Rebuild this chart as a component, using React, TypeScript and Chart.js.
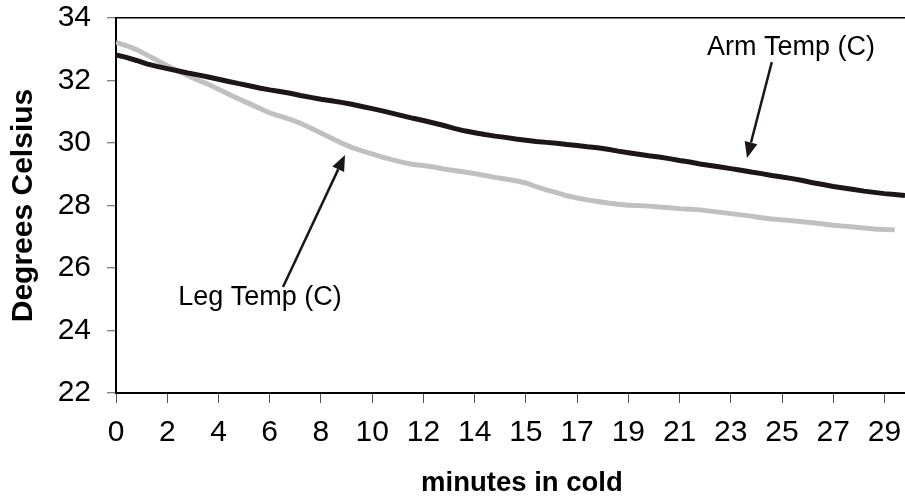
import React, { useEffect, useRef } from 'react';
import { Chart, registerables } from 'chart.js';

Chart.register(...registerables);

// x tick labels (minutes in cold), one every 5 samples
const tickLabels = ['0', '2', '4', '6', '8', '10', '12', '14', '15', '17', '19', '21', '23', '25', '27', '29'];
const samplesPerTick = 5;

// Arm temperature (C), one value per sample
const armTemp = [
  32.82, 32.74, 32.64, 32.53, 32.45, 32.38, 32.31, 32.24, 32.18, 32.11,
  32.04, 31.97, 31.90, 31.83, 31.76, 31.70, 31.65, 31.59, 31.52, 31.46,
  31.40, 31.35, 31.30, 31.24, 31.17, 31.10, 31.03, 30.95, 30.87, 30.79,
  30.72, 30.64, 30.56, 30.47, 30.39, 30.33, 30.27, 30.22, 30.18, 30.13,
  30.09, 30.05, 30.02, 29.99, 29.95, 29.92, 29.88, 29.85, 29.80, 29.74,
  29.69, 29.64, 29.59, 29.55, 29.50, 29.44, 29.39, 29.33, 29.28, 29.23,
  29.18, 29.13, 29.07, 29.02, 28.96, 28.91, 28.86, 28.80, 28.73, 28.67,
  28.61, 28.56, 28.51, 28.46, 28.42, 28.38, 28.35, 28.32,
];

// Leg temperature (C), one value per sample
const legTemp = [
  33.22, 33.12, 32.99, 32.82, 32.65, 32.47, 32.31, 32.16, 32.01, 31.88,
  31.72, 31.56, 31.41, 31.26, 31.11, 30.96, 30.86, 30.76, 30.63, 30.48,
  30.32, 30.16, 30.00, 29.86, 29.75, 29.65, 29.55, 29.46, 29.38, 29.31,
  29.28, 29.23, 29.17, 29.12, 29.07, 29.02, 28.96, 28.90, 28.85, 28.79,
  28.72, 28.60, 28.50, 28.41, 28.31, 28.24, 28.18, 28.13, 28.08, 28.04,
  28.01, 28.00, 27.98, 27.95, 27.93, 27.90, 27.88, 27.86, 27.82, 27.78,
  27.74, 27.70, 27.66, 27.61, 27.57, 27.54, 27.51, 27.48, 27.45, 27.41,
  27.37, 27.34, 27.31, 27.28, 27.25, 27.23, 27.22, null,
];

// Text callouts with arrows, placed in data units (sample index, degrees)
const callouts = [
  { text: 'Arm Temp (C)', textX: 65.87, textY: 32.82, tailX: 64.0, tailY: 32.59, tipX: 61.58, tipY: 29.52 },
  { text: 'Leg Temp (C)', textX: 14.05, textY: 24.82, tailX: 16.3, tailY: 25.39, tipX: 22.35, tipY: 29.62 },
];

const FONT = '"Liberation Sans", Arial, Helvetica, sans-serif';
const INK = '#1c1616';

const calloutPlugin = {
  id: 'callouts',
  afterDatasetsDraw(chart: any) {
    const { ctx } = chart;
    const xs = chart.scales.x;
    const ys = chart.scales.y;
    ctx.save();
    callouts.forEach((c) => {
      const tx = xs.getPixelForValue(c.tailX);
      const ty = ys.getPixelForValue(c.tailY);
      const px = xs.getPixelForValue(c.tipX);
      const py = ys.getPixelForValue(c.tipY);
      const ang = Math.atan2(py - ty, px - tx);
      const headLen = 16;
      const headHalf = 6.5;
      const bx = px - headLen * Math.cos(ang);
      const by = py - headLen * Math.sin(ang);
      ctx.strokeStyle = INK;
      ctx.lineWidth = 2.5;
      ctx.beginPath();
      ctx.moveTo(tx, ty);
      ctx.lineTo(bx, by);
      ctx.stroke();
      ctx.fillStyle = INK;
      ctx.beginPath();
      ctx.moveTo(px, py);
      ctx.lineTo(bx + headHalf * Math.sin(ang), by - headHalf * Math.cos(ang));
      ctx.lineTo(bx - headHalf * Math.sin(ang), by + headHalf * Math.cos(ang));
      ctx.closePath();
      ctx.fill();
      ctx.font = `27px ${FONT}`;
      ctx.textAlign = 'center';
      ctx.textBaseline = 'alphabetic';
      ctx.fillStyle = '#000';
      ctx.fillText(c.text, xs.getPixelForValue(c.textX), ys.getPixelForValue(c.textY));
    });
    ctx.restore();
  },
};

export default function App() {
  const canvasRef = useRef<HTMLCanvasElement | null>(null);

  useEffect(() => {
    if (!canvasRef.current) return;
    const chart = new Chart(canvasRef.current, {
      type: 'line',
      data: {
        datasets: [
          {
            label: 'Arm Temp (C)',
            data: armTemp.map((y, i) => ({ x: i, y })),
            borderColor: INK,
            borderWidth: 5,
            pointRadius: 0,
            tension: 0,
            fill: false,
          },
          {
            label: 'Leg Temp (C)',
            data: legTemp.map((y, i) => ({ x: i, y })),
            borderColor: '#c0c0c0',
            borderWidth: 5,
            pointRadius: 0,
            tension: 0,
            fill: false,
            spanGaps: false,
          },
        ],
      },
      options: {
        responsive: false,
        animation: false,
        layout: { padding: { top: 18, left: 0, right: 0, bottom: 0 } },
        plugins: {
          legend: { display: false },
          tooltip: { enabled: false },
        },
        scales: {
          x: {
            type: 'linear',
            min: 0,
            max: armTemp.length - 1,
            afterBuildTicks: (axis: any) => {
              axis.ticks = tickLabels.map((_, i) => ({ value: i * samplesPerTick }));
            },
            afterFit: (axis: any) => {
              axis.height = 104;
              axis.paddingLeft = 0;
              axis.paddingRight = 0;
            },
            ticks: {
              autoSkip: false,
              maxRotation: 0,
              padding: 15,
              color: '#000',
              font: { family: FONT, size: 30, lineHeight: 1 },
              callback: (value: any) => tickLabels[Math.round(Number(value) / samplesPerTick)] ?? '',
            },
            grid: {
              drawOnChartArea: false,
              drawTicks: true,
              tickLength: 10,
              tickColor: '#555',
              tickWidth: 1,
            },
            border: { display: true, color: '#000', width: 2 },
            title: {
              display: true,
              text: '\u00a0\u00a0\u00a0minutes in cold',
              color: '#000',
              padding: 0,
              font: { family: FONT, size: 27.5, weight: 'bold', lineHeight: 1 },
            },
          },
          y: {
            min: 22,
            max: 34,
            afterFit: (axis: any) => {
              axis.width = 116;
              axis.paddingTop = 0;
              axis.paddingBottom = 0;
            },
            ticks: {
              stepSize: 2,
              padding: 16,
              color: '#000',
              font: { family: FONT, size: 30 },
            },
            grid: {
              color: (c: any) => (c.tick && c.tick.value === 34 ? '#000' : 'rgba(0,0,0,0)'),
              lineWidth: 1.5,
              drawTicks: true,
              tickLength: 9,
              tickColor: '#555',
              tickWidth: 1,
            },
            border: { display: true, color: '#000', width: 2 },
            title: {
              display: true,
              text: 'Degrees Celsius',
              color: '#000',
              padding: { top: 6, bottom: 0 },
              font: { family: FONT, size: 30, weight: 'bold' },
            },
          },
        },
      },
      plugins: [calloutPlugin],
    });
    return () => chart.destroy();
  }, []);

  return (
    <div style={{ position: 'fixed', left: 0, top: 0, width: 905, height: 497, overflow: 'hidden', background: '#fff' }}>
      <canvas ref={canvasRef} width={905} height={497} style={{ display: 'block' }} />
    </div>
  );
}
